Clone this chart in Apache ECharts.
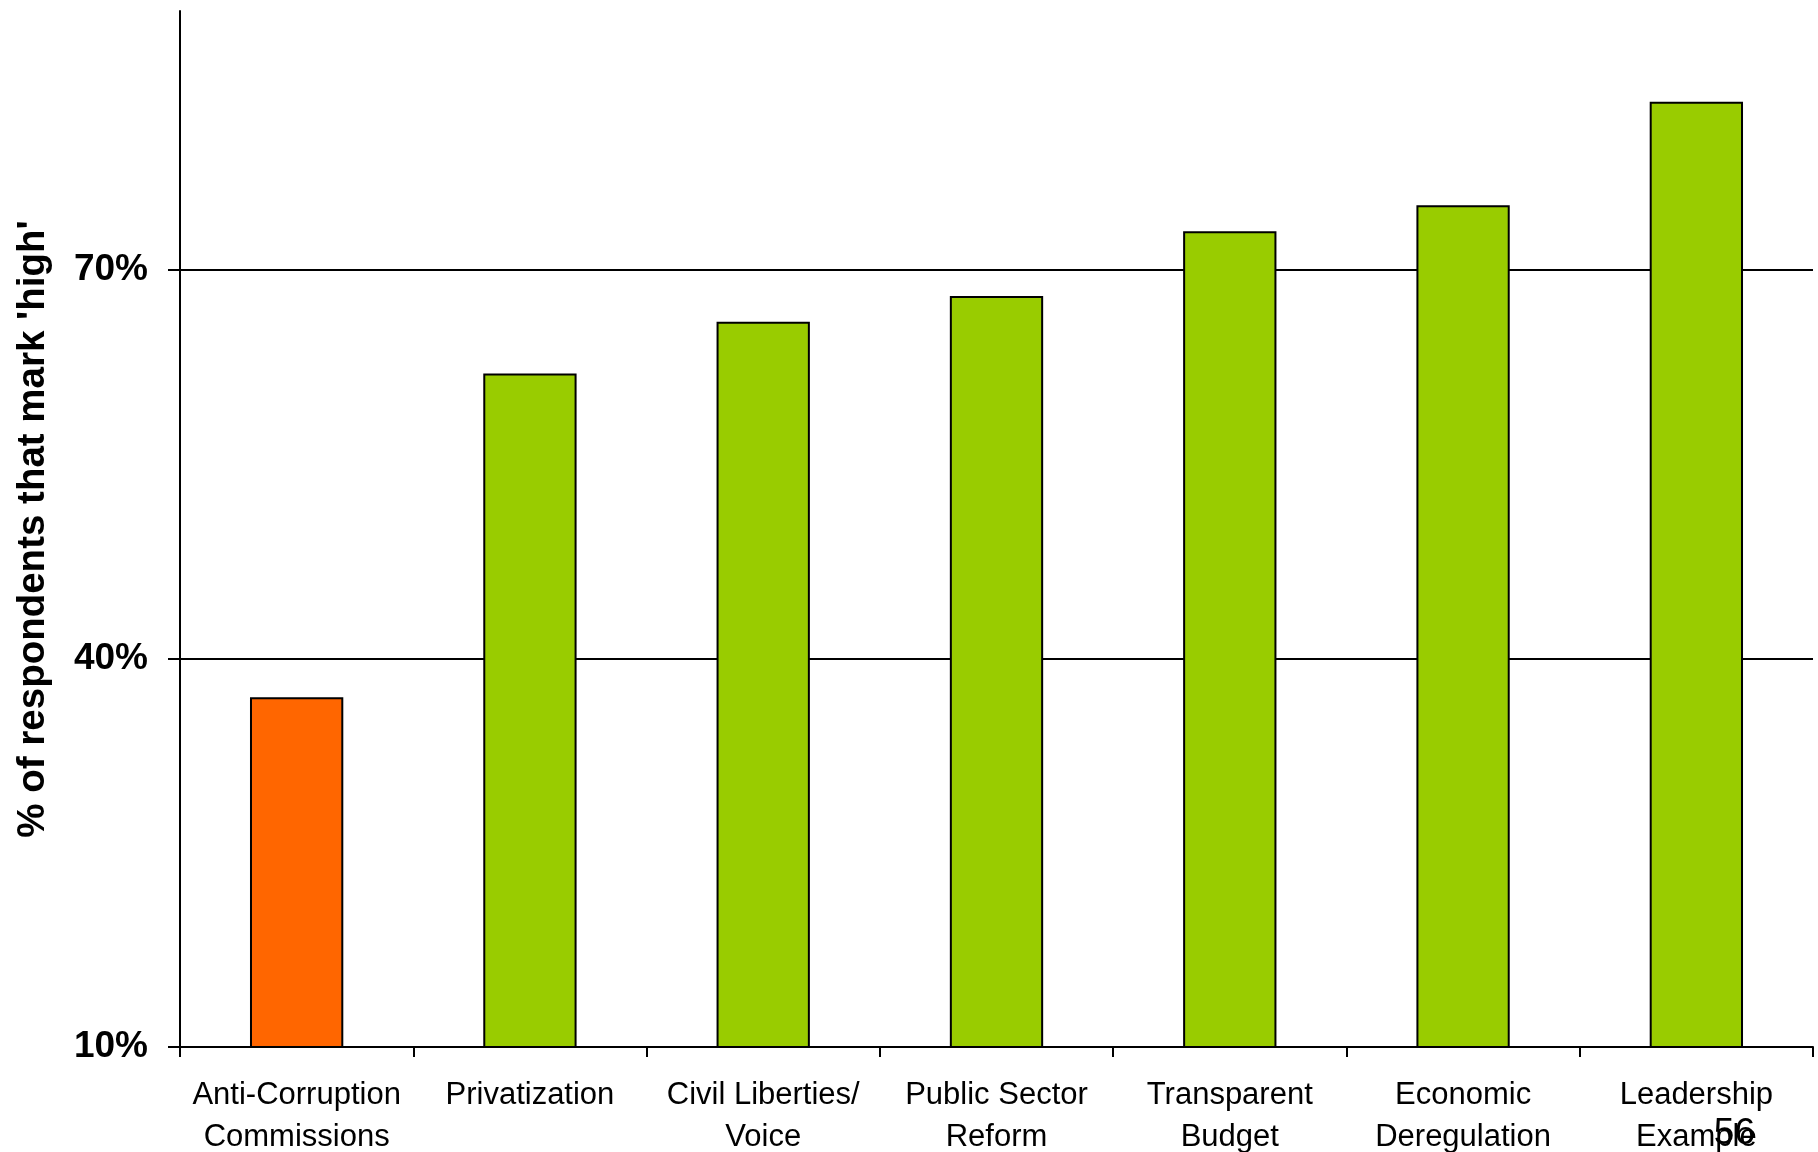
<!DOCTYPE html>
<html>
<head>
<meta charset="utf-8">
<script src="https://cdn.jsdelivr.net/npm/echarts@6/dist/echarts.min.js"></script>
<style>
html,body{margin:0;padding:0;background:#fff;}
#chart{width:1818px;height:1152px;}
</style>
</head>
<body>
<div id="chart"></div>
<script>
const categories = ['Anti-Corruption\nCommissions', 'Privatization', 'Civil Liberties/\nVoice', 'Public Sector\nReform', 'Transparent\nBudget', 'Economic\nDeregulation', 'Leadership\nExample'];
const values = [37, 62, 66, 68, 73, 75, 83];
const barColors = ['#FF6600', '#99CC00', '#99CC00', '#99CC00', '#99CC00', '#99CC00', '#99CC00'];
const yTicks = [10, 40, 70];
const yAxisTitle = "% of respondents that mark 'high'";
const pageNumber = '56';

const chart = echarts.init(document.getElementById('chart'), null, {renderer: 'canvas'});
chart.setOption({
  backgroundColor: '#ffffff',
  animation: false,
  grid: {left: 180, right: 5, top: 11, bottom: 105, containLabel: false, outerBoundsMode: 'none'},
  xAxis: {
    type: 'category',
    data: categories,
    axisLine: {show: true, lineStyle: {color: '#000', width: 2}},
    axisTick: {show: true, alignWithLabel: false, length: 10, lineStyle: {color: '#000', width: 2}},
    axisLabel: {
      interval: 0,
      color: '#000',
      fontFamily: '"Liberation Sans Narrow", "Arial Narrow", "Liberation Sans", sans-serif',
      fontSize: 31,
      lineHeight: 42,
      margin: 27
    },
    splitLine: {show: false}
  },
  yAxis: {
    type: 'value',
    min: 10,
    max: 90,
    interval: 10,
    name: yAxisTitle,
    nameLocation: 'middle',
    nameRotate: 90,
    nameGap: 127,
    nameTextStyle: {
      color: '#000',
      fontFamily: '"Liberation Sans", Arial, sans-serif',
      fontWeight: 'bold',
      fontSize: 38.5
    },
    axisLine: {show: true, lineStyle: {color: '#000', width: 2}},
    axisTick: {show: true, length: 12, customValues: yTicks, lineStyle: {color: '#000', width: 2}},
    axisLabel: {
      customValues: yTicks,
      formatter: v => v + '%',
      color: '#000',
      fontFamily: '"Liberation Sans", Arial, sans-serif',
      fontWeight: 'bold',
      fontSize: 37,
      margin: 32,
      padding: [9, 0, 0, 0]
    },
    splitLine: {show: true, lineStyle: {color: '#000', width: 2}}
  },
  series: [{
    type: 'bar',
    data: values.map((v, i) => ({value: v, itemStyle: {color: barColors[i]}})),
    barWidth: '40%',
    itemStyle: {borderColor: '#000', borderWidth: 2},
    z: 3
  }],
  graphic: [{
    type: 'text',
    right: 63,
    top: 1115,
    style: {
      text: pageNumber,
      fill: '#000',
      font: '37px "Liberation Sans", Arial, sans-serif'
    },
    z: 100
  }]
});
</script>
</body>
</html>
